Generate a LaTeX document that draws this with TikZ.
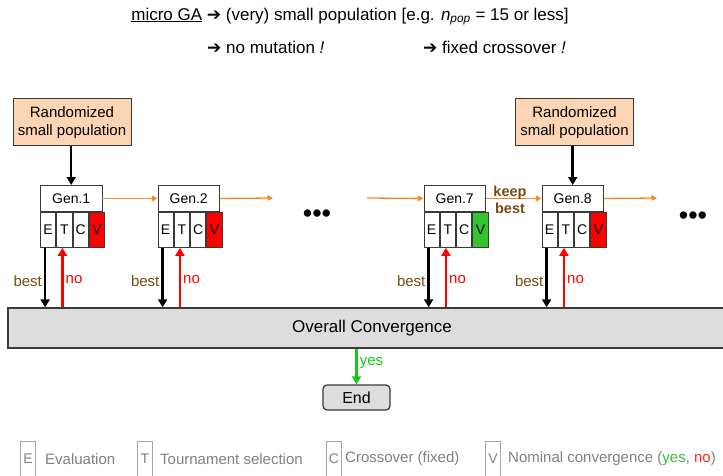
\documentclass[tikz,border=0pt]{standalone}
\usepackage{fontspec}
\setmainfont{Liberation Sans}
\newfontfamily\symfont{DejaVu Sans}
\usetikzlibrary{arrows.meta,calc}

\definecolor{peach}{HTML}{FCD5B5}
\definecolor{flowor}{HTML}{FF8424}
\definecolor{brownlbl}{HTML}{7B4A14}
\definecolor{convred}{HTML}{FF0000}
\definecolor{convgreen}{HTML}{33C433}
\definecolor{yesgreen}{HTML}{11CC11}
\definecolor{boxgray}{HTML}{DDDDDD}
\definecolor{edgegray}{HTML}{3A3A3A}
\definecolor{legtext}{HTML}{808080}
\definecolor{legline}{HTML}{A6A6A6}

\newcommand\rarr{{\symfont\bfseries\char"2794}}

\tikzset{
  txt/.style={font=\fontsize{17}{20}\selectfont, inner sep=0pt},
  popbox/.style={draw=edgegray, line width=1pt, fill=peach, align=center,
    minimum width=118pt, minimum height=47pt, inner sep=0pt,
    font=\fontsize{15}{18}\selectfont},
  genhead/.style={draw=edgegray, line width=0.9pt, fill=white,
    minimum width=61.5pt, minimum height=26pt, inner sep=0pt,
    font=\fontsize{14}{16}\selectfont},
  cell/.style={draw=edgegray, line width=0.9pt, fill=white,
    minimum width=15.375pt, minimum height=35pt, inner sep=0pt,
    font=\fontsize{14}{16}\selectfont},
  legcell/.style={draw=legline, line width=0.9pt, text=legtext,
    minimum width=15pt, minimum height=35pt, inner sep=0pt,
    font=\fontsize{14}{16}\selectfont},
  legtxt/.style={text=legtext, inner sep=0pt, anchor=west,
    font=\fontsize{15}{18}\selectfont},
  flowarrow/.style={draw=flowor, line width=1.3pt,
    -{Triangle[length=5.5pt,width=5.5pt]}},
  heavyarrow/.style={draw=black, line width=2.5pt,
    -{Triangle[length=8pt,width=9pt]}},
  noarrow/.style={draw=convred, line width=2.5pt,
    -{Triangle[length=8pt,width=9pt]}},
  yesarrow/.style={draw=yesgreen, line width=2.5pt,
    -{Triangle[length=8pt,width=9pt]}},
  bestlbl/.style={text=brownlbl, font=\fontsize{15}{17}\selectfont, inner sep=2pt},
  nolbl/.style={text=convred, font=\fontsize{15}{17}\selectfont, inner sep=2pt},
  dots/.style={font=\fontsize{27}{27}\selectfont, inner sep=0pt},
}

% one generation: header plus the E, T, C, V cells
\newcommand\genunit[4]{%
  \node[genhead, anchor=north west] (#1) at (#2,185) {#3};
  \node[cell, anchor=north west] (#1E) at (#1.south west) {E};
  \node[cell, anchor=north west] (#1T) at (#1E.north east) {T};
  \node[cell, anchor=north west] (#1C) at (#1T.north east) {C};
  \node[cell, anchor=north west, fill=#4] (#1V) at (#1C.north east) {V};
  \coordinate (#1bt) at ($(#1E.south)+(-3,0)$);
  \coordinate (#1nt) at ($(#1T.south)+(-2,0)$);
  \draw[heavyarrow] (#1bt) -- node[bestlbl, pos=0.56, left] {best} (#1bt |- oc.north);
  \draw[noarrow] (#1nt |- oc.north) -- node[nolbl, pos=0.46, right] {no} (#1nt);
}

\begin{document}
\begin{tikzpicture}[x=1pt, y=-1pt]
\useasboundingbox (0,0) rectangle (723,476);

% heading
\node[txt] (head) at (350,16.5)
  {\underline{micro GA} \rarr{} (very) small population [e.g. \textit{n}\textsubscript{\textit{pop}} = 15 or less]};
\node[txt, anchor=west] (nomut) at (207,47.5) {\rarr{} no mutation \textit{!}};
\node[txt, anchor=west] (fixco) at (423,47.5) {\rarr{} fixed crossover \textit{!}};

% overall convergence bar and end
\node[draw=edgegray, line width=1.3pt, fill=boxgray, minimum width=728pt,
  minimum height=40pt, inner sep=0pt, font=\fontsize{17}{20}\selectfont]
  (oc) at (372,328) {Overall Convergence};
\node[draw=edgegray, line width=1.3pt, fill=boxgray, rounded corners=4pt,
  minimum width=67pt, minimum height=25pt, inner sep=0pt,
  font=\fontsize{16}{18}\selectfont] (end) at (356.5,397.5) {End};
\draw[yesarrow] (oc.south -| end.north) --
  node[pos=0.4, right, inner sep=2pt, text=yesgreen, font=\fontsize{15}{17}\selectfont] {yes} (end.north);

% generations
\genunit{g1}{40}{Gen.1}{convred}
\genunit{g2}{157.5}{Gen.2}{convred}
\genunit{g7}{423.5}{Gen.7}{convgreen}
\genunit{g8}{541.5}{Gen.8}{convred}

% random initial populations
\node[popbox] (pop1) at (72,122.5) {Randomized\\small population};
\node[popbox] (pop2) at (574.5,122.5) {Randomized\\small population};
\draw[heavyarrow] (pop1.south -| g1.north) -- (g1.north);
\draw[heavyarrow] (pop2.south -| g8.north) -- (g8.north);

% flow between generations
\coordinate (out2) at (273,198);
\coordinate (in7) at (367,198);
\coordinate (out8) at (657,198);
\draw[flowarrow] (g1.east) -- (g2.west);
\draw[flowarrow] (g2.east) -- (out2);
\draw[flowarrow] (in7) -- (g7.west);
\draw[flowarrow] (g7.east) -- (g8.west);
\draw[flowarrow] (g8.east) -- (out8);
\node[text=brownlbl, font=\bfseries\fontsize{14.5}{17}\selectfont, align=center,
  inner sep=0pt] (keep) at (510,199.5) {keep\\best};

\node[dots] (dotsA) at (317,216) {•••};
\node[dots] (dotsB) at (693,218) {•••};

% legend
\node[legcell, anchor=north west] (lE) at (20,441) {E};
\node[legtxt] (lEt) at (45,459) {Evaluation};
\node[legcell, anchor=north west] (lT) at (137,441) {T};
\node[legtxt] (lTt) at (160,459) {Tournament selection};
\node[legcell, anchor=north west] (lC) at (326,441) {C};
\node[legtxt] (lCt) at (345,459) {Crossover (fixed)};
\node[legcell, anchor=north west] (lV) at (485,441) {V};
\node[legtxt] (lVt) at (508,459)
  {Nominal convergence (\textcolor{convgreen}{yes}, \textcolor{convred!85}{no})};
\end{tikzpicture}
\end{document}
